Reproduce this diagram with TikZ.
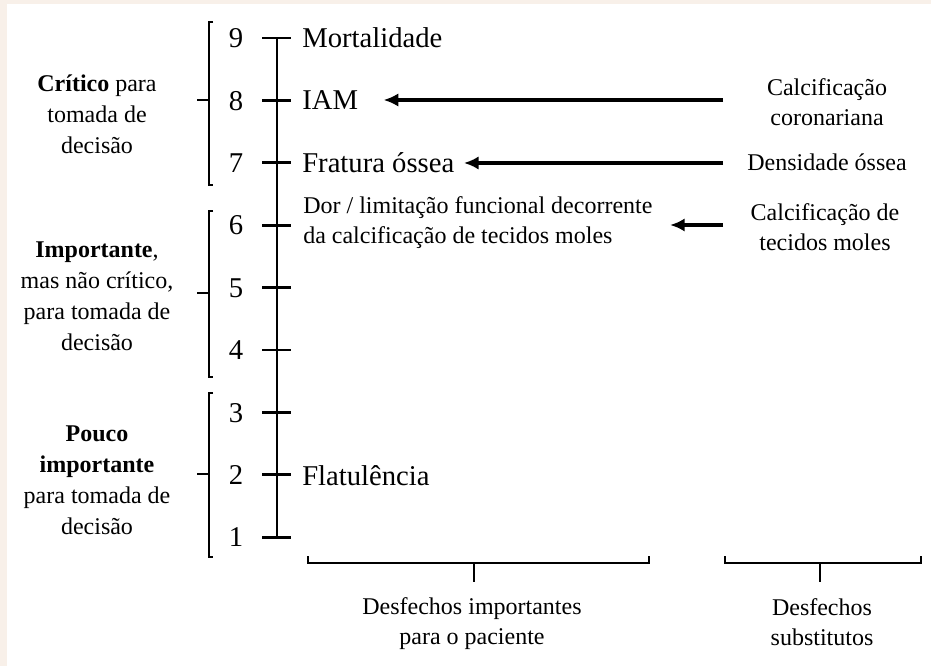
\documentclass[tikz,border=0pt]{standalone}
\usepackage{fontspec}
\setmainfont{Liberation Serif}
\usetikzlibrary{arrows.meta,positioning,calc}
\definecolor{paperCream}{HTML}{F8F0E9}
\tikzset{
  outlbl/.style={anchor=west,inner sep=0pt,font=\fontsize{21.5}{26}\selectfont,
    text height=14.6pt,text depth=0pt},
  numlbl/.style={inner sep=0pt,font=\fontsize{21.5}{26}\selectfont,
    text height=14.6pt,text depth=0pt},
  sidelbl/.style={inner sep=0pt,align=center,font=\fontsize{18}{23.25}\selectfont},
  srclbl/.style={inner sep=0pt,align=center,font=\fontsize{18}{22.5}\selectfont},
  axisline/.style={line width=2pt},
  brk/.style={line width=1.6pt},
  harrow/.style={-{Latex[length=11pt,width=10pt]},line width=2.4pt},
}
\begin{document}
\begin{tikzpicture}[x=0.75pt,y=-0.75pt]
\useasboundingbox (0,0) rectangle (931,666);
\fill[paperCream] (0,0) rectangle (931,666);
\fill[white] (7,4) rectangle (931,666);

\foreach \n in {1,...,9} {
  \coordinate (t\n) at (277,{38+(9-\n)*62.4});
  \draw[axisline] (262,{38+(9-\n)*62.4}) -- (291,{38+(9-\n)*62.4});
  \node[numlbl] (n\n) at (236,{38+(9-\n)*62.4}) {\n};
}
\draw[axisline] (t9) -- (t1);

\node[outlbl] (mort) at (302,38) {Mortalidade};
\node[outlbl] (iam) at (302,100) {IAM};
\node[outlbl] (frat) at (302,163) {Fratura óssea};
\node[sidelbl,anchor=west,align=left,font=\fontsize{18}{22.5}\selectfont] (dor) at (303,223)
  {Dor / limitação funcional decorrente\\da calcificação de tecidos moles};
\node[outlbl] (flat) at (302,476) {Flatulência};

\node[srclbl] (calcor) at (827,102) {Calcificação\\coronariana};
\node[srclbl] (dens) at (827,162) {Densidade óssea};
\node[srclbl] (caltec) at (825,227) {Calcificação de\\tecidos moles};

\coordinate (s8) at (723,100);
\coordinate (s7) at (723,163);
\coordinate (s6) at (723,225);
\draw[harrow,shorten >=19pt] (s8) -- (iam.east |- s8);
\draw[harrow,shorten >=7pt] (s7) -- (frat.east |- s7);
\draw[harrow,shorten >=13pt] (s6) -- (dor.east |- s6);

\draw[brk] (213,22) -- (209,22) -- (209,185) -- (213,185);
\draw[brk] (209,100) -- (197,100);
\draw[brk] (213,211) -- (209,211) -- (209,377) -- (213,377);
\draw[brk] (209,293) -- (197,293);
\draw[brk] (213,393) -- (209,393) -- (209,557) -- (213,557);
\draw[brk] (209,474) -- (197,474);

\node[sidelbl] (crit) at (97,114) {\textbf{Crítico} para\\tomada de\\decisão};
\node[sidelbl] (imp) at (97,296) {\textbf{Importante},\\mas não crítico,\\para tomada de\\decisão};
\node[sidelbl] (pouco) at (97,480) {\textbf{Pouco}\\\textbf{importante}\\para tomada de\\decisão};

\draw[brk] (308,556) -- (308,563) -- (649,563) -- (649,556);
\draw[brk] (474,563) -- (474,582);
\draw[brk] (725,556) -- (725,563) -- (921,563) -- (921,556);
\draw[brk] (820,563) -- (820,582);

\node[srclbl] (despac) at (472,624) {Desfechos importantes\\para o paciente};
\node[srclbl] (dessub) at (822,622) {Desfechos\\substitutos};
\end{tikzpicture}
\end{document}
